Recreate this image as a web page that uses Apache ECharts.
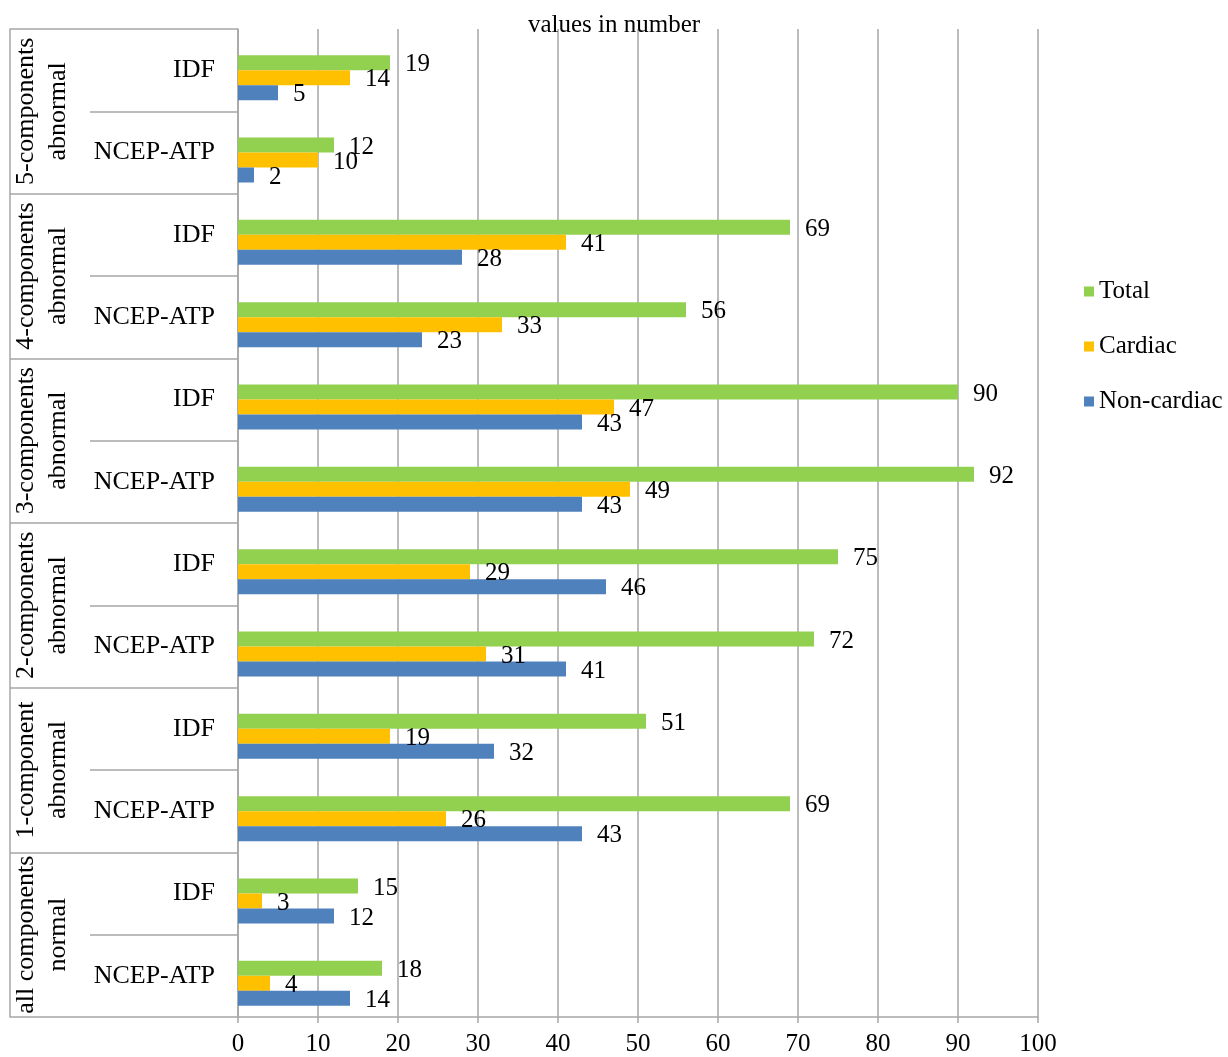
<!DOCTYPE html>
<html>
<head>
<meta charset="utf-8">
<script src="https://cdn.jsdelivr.net/npm/echarts@6/dist/echarts.min.js"></script>
<style>
  html, body { margin: 0; padding: 0; background: #fff; }
  #chart { width: 1228px; height: 1057px; }
</style>
</head>
<body>
<div id="chart"></div>
<script>
// categories bottom to top
const criteria = ['NCEP-ATP', 'IDF', 'NCEP-ATP', 'IDF', 'NCEP-ATP', 'IDF',
    'NCEP-ATP', 'IDF', 'NCEP-ATP', 'IDF', 'NCEP-ATP', 'IDF'];
const groups = ['all components\nnormal', '1-component\nabnormal', '2-components\nabnormal',
    '3-components\nabnormal', '4-components\nabnormal', '5-components\nabnormal'];

const nonCardiac = [14, 12, 43, 32, 41, 46, 43, 43, 23, 28, 2, 5];
const cardiac = [4, 3, 26, 19, 31, 29, 49, 47, 33, 41, 10, 14];
const total = [18, 15, 69, 51, 72, 75, 92, 90, 56, 69, 12, 19];

const xTicks = [0, 100, 10];

const font = '"Liberation Serif", "Times New Roman", serif';
const gridGray = '#a6a6a6';

const chart = echarts.init(document.getElementById('chart'));

const barLabel = {
    show: true,
    position: 'right',
    distance: 15,
    offset: [0, 2],
    color: '#000',
    fontFamily: font,
    fontSize: 25
};

const option = {
    backgroundColor: '#fff',
    animation: false,
    title: {
        text: 'values in number',
        left: 'center',
        top: 8,
        textStyle: {
            fontFamily: font,
            fontSize: 25,
            fontWeight: 'normal',
            color: '#000'
        }
    },
    legend: {
        orient: 'vertical',
        left: 1079,
        top: 274,
        itemWidth: 10,
        itemHeight: 10,
        itemGap: 30,
        icon: 'rect',
        data: ['Total', 'Cardiac', 'Non-cardiac'],
        textStyle: {
            fontFamily: font,
            fontSize: 25,
            color: '#000'
        }
    },
    grid: [
        // axes, grid lines and label table
        { left: 238, right: 190, top: 29, bottom: 40 },
        // bars sit a little below the band centres, as in the original
        { left: 238, right: 190, top: 36.5, bottom: 32.5 }
    ],
    xAxis: [
        {
            type: 'value',
            gridIndex: 0,
            min: xTicks[0],
            max: xTicks[1],
            interval: xTicks[2],
            axisLine: {
                show: true,
                lineStyle: { color: gridGray, width: 1.5 }
            },
            axisTick: {
                show: true,
                length: 6,
                lineStyle: { color: gridGray, width: 1.5 }
            },
            axisLabel: {
                color: '#000',
                fontFamily: font,
                fontSize: 25,
                margin: 15
            },
            splitLine: {
                show: true,
                lineStyle: { color: gridGray, width: 1.5 }
            }
        },
        {
            type: 'value',
            gridIndex: 1,
            min: xTicks[0],
            max: xTicks[1],
            show: false
        }
    ],
    yAxis: [
        {
            type: 'category',
            gridIndex: 0,
            data: criteria,
            position: 'left',
            axisLine: {
                show: true,
                lineStyle: { color: gridGray, width: 1.5 }
            },
            axisTick: {
                show: true,
                interval: 0,
                length: 148,
                lineStyle: { color: gridGray, width: 1.5 }
            },
            axisLabel: {
                interval: 0,
                color: '#000',
                fontFamily: font,
                fontSize: 26,
                margin: 23
            }
        },
        {
            type: 'category',
            gridIndex: 0,
            data: groups,
            position: 'left',
            axisLine: { show: false },
            axisTick: {
                show: true,
                interval: 0,
                length: 228,
                lineStyle: { color: gridGray, width: 1.5 }
            },
            axisLabel: {
                interval: 0,
                color: '#000',
                fontFamily: font,
                fontSize: 26,
                lineHeight: 32,
                rotate: 90,
                align: 'center',
                verticalAlign: 'middle',
                margin: 196
            }
        },
        {
            // left border of the label table
            type: 'category',
            gridIndex: 0,
            data: groups,
            position: 'left',
            offset: 228,
            axisLine: {
                show: true,
                lineStyle: { color: gridGray, width: 1.5 }
            },
            axisTick: { show: false },
            axisLabel: { show: false }
        },
        {
            type: 'category',
            gridIndex: 1,
            data: criteria,
            show: false
        }
    ],
    series: [
        {
            name: 'Total',
            type: 'bar',
            xAxisIndex: 1,
            yAxisIndex: 3,
            data: total,
            barWidth: 15,
            barGap: '0%',
            itemStyle: { color: '#92d050' },
            label: barLabel
        },
        {
            name: 'Cardiac',
            type: 'bar',
            xAxisIndex: 1,
            yAxisIndex: 3,
            data: cardiac,
            barWidth: 15,
            barGap: '0%',
            itemStyle: { color: '#ffc000' },
            label: barLabel
        },
        {
            name: 'Non-cardiac',
            type: 'bar',
            xAxisIndex: 1,
            yAxisIndex: 3,
            data: nonCardiac,
            barWidth: 15,
            barGap: '0%',
            itemStyle: { color: '#4f81bd' },
            label: barLabel
        }
    ]
};

chart.setOption(option);
</script>
</body>
</html>
